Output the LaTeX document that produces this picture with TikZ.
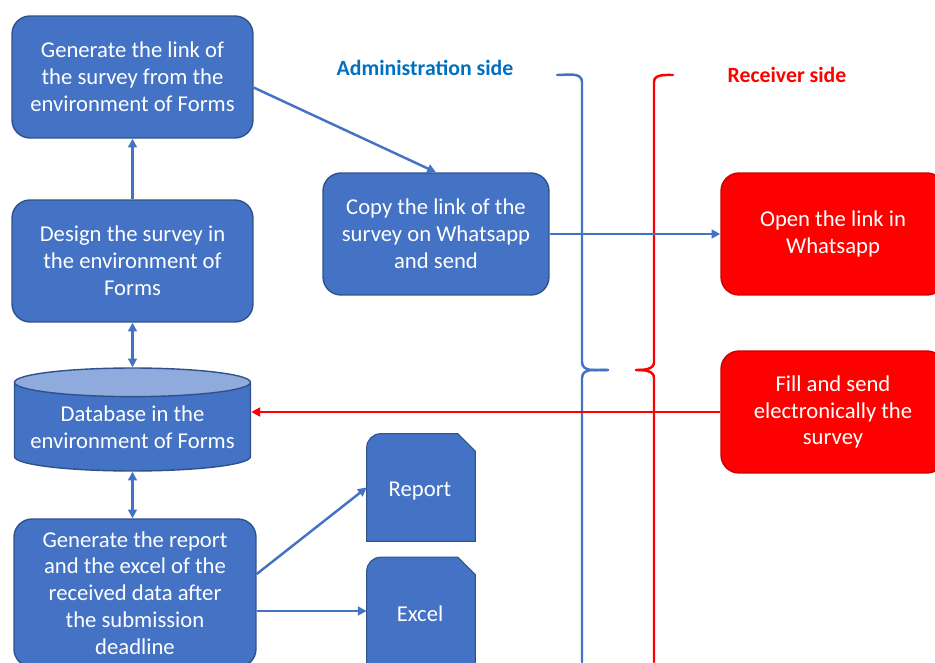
\documentclass[tikz,border=0pt]{standalone}
\usepackage{fontspec}
\setmainfont{Carlito}
\usetikzlibrary{positioning}
\usetikzlibrary{shapes.geometric}
\usetikzlibrary{arrows.meta}
\definecolor{boxblue}{RGB}{68,114,196}
\definecolor{edgeblue}{RGB}{47,82,143}
\definecolor{toplight}{RGB}{143,170,220}
\definecolor{headblue}{RGB}{0,112,192}

\begin{document}
\begin{tikzpicture}[x=0.02cm,y=-0.02cm,
  box/.style={rectangle,rounded corners=0.36cm,draw=edgeblue,fill=boxblue,
    text=white,align=center,line width=0.8pt,inner sep=0pt,
    font=\fontsize{12.9}{15.3}\selectfont,
    minimum width=4.82cm,minimum height=2.44cm},
  redbox/.style={box,draw=red!80!black,fill=red,minimum width=4.48cm},
  cyl/.style={cylinder,shape border rotate=90,aspect=0.14,draw=edgeblue,
    line width=0.8pt,cylinder uses custom fill,cylinder body fill=boxblue,
    cylinder end fill=toplight,text=white,align=center,inner sep=0pt,
    font=\fontsize{12.9}{15.3}\selectfont,
    minimum width=4.72cm,minimum height=2.06cm},
  doc/.style={rectangle,text=white,inner sep=0pt,
    minimum width=2.16cm,minimum height=2.14cm},
  docfill/.style={fill=boxblue,draw=edgeblue,line width=0.6pt},
  arr/.style={draw=boxblue,line width=1.4pt,-{Triangle[length=5pt,width=5pt]}},
  both/.style={arr,{Triangle[length=5pt,width=5pt]}-{Triangle[length=5pt,width=5pt]}},
  redarr/.style={arr,draw=red,fill=red},
  brace/.style={line width=1.4pt,line cap=round},
  head/.style={font=\fontsize{12.4}{15}\selectfont\bfseries}]

  \clip (0,0) rectangle (935,662);

  % left column
  \node[box] (gen) at (132.5,77) {Generate the link of\\the survey from the\\environment of Forms};
  \node[box] (design) at (132.5,261) {Design the survey in\\the environment of\\Forms};
  \node[cyl] (db) at (132.5,427) {Database in the\\environment of Forms};
  \node[box,minimum width=4.84cm,minimum height=2.96cm] (out) at (135,593) {Generate the report\\and the excel of the\\received data after\\the submission\\deadline};

  % middle
  \node[box,minimum width=4.52cm] (copy) at (436,234) {Copy the link of the\\survey on Whatsapp\\and send};
  \node[doc] (report) at (421,487.5) {};
  \node[doc] (excel) at (421,611) {};
  \filldraw[docfill] (report.south west) -- ([yshift=-8pt]report.north west)
    arc[start angle=180,end angle=90,radius=8pt] -- ([xshift=-10pt]report.north east)
    -- ([yshift=-10pt]report.north east) -- (report.south east) -- cycle;
  \filldraw[docfill] (excel.south west) -- ([yshift=-8pt]excel.north west)
    arc[start angle=180,end angle=90,radius=8pt] -- ([xshift=-10pt]excel.north east)
    -- ([yshift=-10pt]excel.north east) -- (excel.south east) -- cycle;
  \node[text=white,font=\fontsize{12.9}{15.3}\selectfont] (replbl) at (420,491) {Report};
  \node[text=white,font=\fontsize{12.9}{15.3}\selectfont] (exclbl) at (420,614) {Excel};

  % right side
  \node[redbox] (open) at (833,234) {Open the link in\\Whatsapp};
  \node[redbox] (fill) at (833,412) {Fill and send\\electronically the\\survey};

  \node[head,text=headblue] (admin) at (425,68) {Administration side};
  \node[head,text=red] (recv) at (787,75) {Receiver side};

  % braces
  \draw[brace,draw=boxblue] (557,75) to[out=0,in=90] (582,82) -- (582,362)
    to[out=-90,in=180] (608,370);
  \draw[brace,draw=boxblue] (608,370) to[out=180,in=90] (582,378) -- (582,662);
  \draw[brace,draw=red] (673,75) to[out=180,in=90] (654,82) -- (654,362)
    to[out=-90,in=0] (636,370);
  \draw[brace,draw=red] (636,370) to[out=0,in=90] (654,378) -- (654,662);

  % arrows
  \draw[arr] (design.north) -- (gen.south);
  \draw[both] (design.south) -- (db.north);
  \draw[both] (db.south) -- (db.south |- out.north);
  \draw[arr] ([yshift=-6pt]gen.east) -- (copy.north);
  \draw[arr] (copy.east) -- (open.west);
  \draw[redarr] (fill.west) -- (fill.west -| db.east);
  \draw[arr] ([yshift=10.8pt]out.east) -- (report.west);
  \draw[arr] (out.east |- excel.west) -- (excel.west);
\end{tikzpicture}
\end{document}
